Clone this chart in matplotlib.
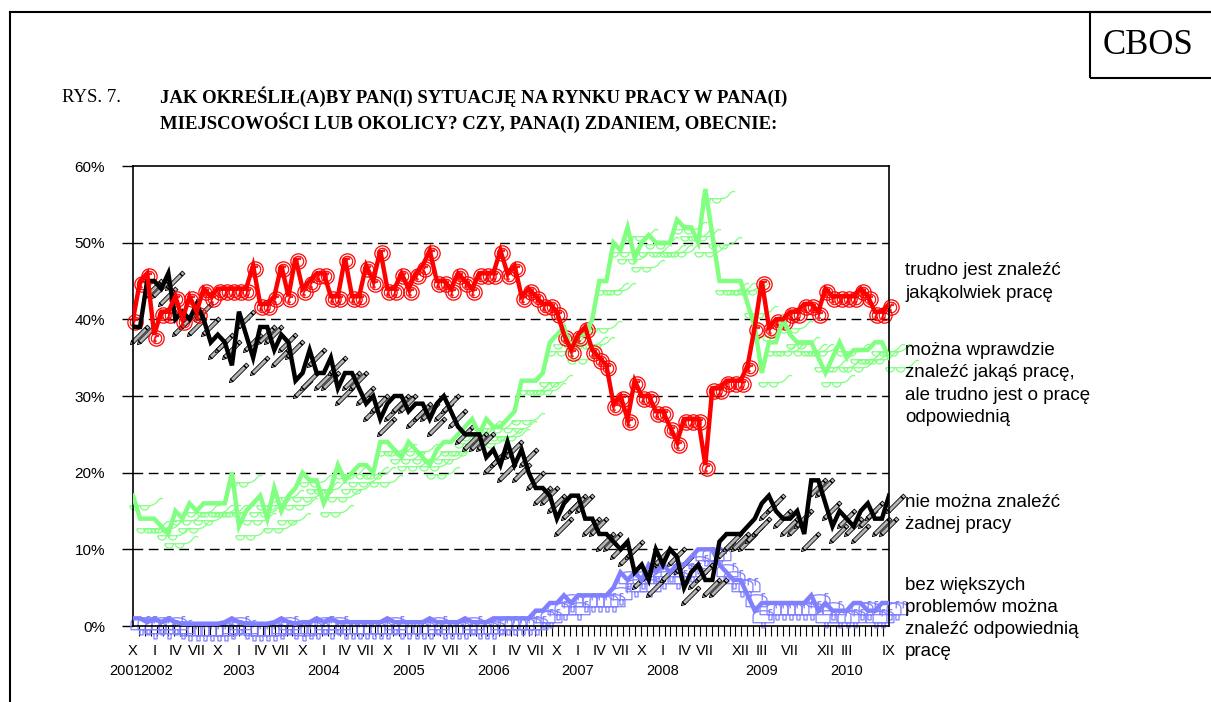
import numpy as np
import matplotlib
matplotlib.use("Agg")
import matplotlib.pyplot as plt
from matplotlib.path import Path
from matplotlib.transforms import ScaledTranslation
from matplotlib.patches import Rectangle
from matplotlib.lines import Line2D

plt.rcParams['font.family'] = ['Liberation Sans', 'DejaVu Sans']

# --- dane (X 2001 - IX 2010, co miesiąc) ---
trudno_jakakolwiek = [40, 45, 46, 38, 41, 41, 43, 40, 43, 41, 44, 43, 44, 44, 44, 44, 44, 47, 42, 42,
                      43, 47, 43, 48, 44, 45, 46, 46, 43, 43, 48, 43, 43, 47, 45, 49, 44, 44, 46, 44,
                      46, 47, 49, 45, 45, 44, 46, 45, 44, 46, 46, 46, 49, 46, 47, 43, 44, 43, 42, 42,
                      41, 38, 36, 38, 39, 36, 35, 34, 29, 30, 27, 32, 30, 30, 28, 28, 26, 24, 27, 27,
                      27, 21, 31, 31, 32, 32, 32, 34, 39, 45, 39, 40, 40, 41, 41, 42, 42, 41, 44, 43,
                      43, 43, 43, 44, 43, 41, 41, 42]
mozna_ale_trudno = [17, 14, 14, 14, 13, 12, 15, 14, 16, 15, 16, 16, 16, 16, 20, 13, 15, 16, 17, 14,
                    18, 15, 17, 18, 20, 19, 19, 16, 18, 21, 19, 20, 21, 21, 20, 24, 24, 23, 22, 24,
                    23, 22, 21, 23, 24, 24, 25, 26, 27, 25, 27, 26, 26, 27, 28, 32, 32, 32, 33, 37,
                    38, 39, 36, 38, 38, 40, 45, 45, 50, 49, 52, 48, 50, 51, 50, 50, 50, 53, 52, 52,
                    50, 57, 51, 45, 45, 45, 45, 42, 39, 33, 37, 37, 40, 38, 37, 37, 37, 35, 33, 35,
                    37, 35, 36, 36, 36, 37, 37, 35]
nie_mozna = [39, 39, 45, 45, 44, 46, 40, 41, 40, 42, 40, 37, 38, 37, 34, 41, 38, 35, 39, 39,
             36, 38, 37, 32, 33, 36, 33, 33, 35, 31, 33, 33, 31, 29, 30, 27, 29, 30, 30, 28,
             29, 29, 27, 29, 30, 28, 26, 25, 25, 25, 22, 23, 21, 24, 21, 23, 20, 18, 18, 17,
             14, 16, 17, 17, 14, 14, 12, 12, 11, 10, 11, 7, 8, 6, 10, 8, 10, 9, 5, 7,
             8, 6, 6, 11, 12, 12, 12, 13, 14, 16, 17, 15, 14, 14, 15, 12, 19, 19, 16, 13,
             15, 14, 13, 15, 16, 14, 14, 17]
bez_problemow = [1, 1, 0.5, 1, 0.5, 1, 0.5, 0.3, 0.3, 0.3, 0.3, 0.3, 0.3, 0.5, 1, 0.5, 0.3, 0.3, 0.3, 0.3,
                 0.5, 1, 0.5, 0.3, 0.5, 0.5, 1, 0.5, 1, 0.5, 0.5, 0.5, 0.5, 0.5, 0.5, 0.5, 1, 0.5, 0.5, 0.5,
                 0.5, 0.5, 1, 0.5, 0.5, 0.5, 0.5, 1, 0.5, 0.5, 0.5, 1, 1, 1, 1, 1, 1, 2, 2, 3,
                 3, 4, 3, 4, 4, 4, 4, 4, 5, 7, 6, 7, 6, 8, 7, 8, 7, 8, 8, 9,
                 10, 10, 10, 8, 7, 6, 6, 4, 2, 3, 3, 3, 3, 3, 3, 3, 4, 2, 3, 2,
                 2, 2, 3, 3, 2, 2, 3, 3]

miesiace = ['X', 'I', 'IV', 'VII', 'X', 'I', 'IV', 'VII', 'X', 'I', 'IV', 'VII', 'X', 'I', 'IV', 'VII',
            'X', 'I', 'IV', 'VII', 'X', 'I', 'IV', 'VII', 'X', 'I', 'IV', 'VII', 'XII', 'III', 'VII',
            'XII', 'III', 'IX']
miesiace_poz = [0, 3, 6, 9, 12, 15, 18, 21, 24, 27, 30, 33, 36, 39, 42, 45,
                48, 51, 54, 57, 60, 63, 66, 69, 72, 75, 78, 81, 86, 89, 93,
                98, 101, 107]
lata = ['2001', '2002', '2003', '2004', '2005', '2006', '2007', '2008', '2009', '2010']
lata_poz = [-1.1, 3.4, 15, 27, 39, 51, 63, 75, 89, 101]

etykiety = ['trudno jest znaleźć\njakąkolwiek pracę',
            'można wprawdzie\nznaleźć jakąś pracę,\nale trudno jest o pracę\nodpowiednią',
            'nie można znaleźć\nżadnej pracy',
            'bez większych\nproblemów można\nznaleźć odpowiednią\npracę']


# --- markery rysowane jako ścieżki ---
def polowa_kola(cx, cy, r, n=10):
    t = np.linspace(0, -np.pi, n)
    return list(zip(cx + r * np.cos(t), cy + r * np.sin(t)))


def okulary():
    v, c = [], []
    for cx in (0.0, 0.85):
        pts = [(cx - 0.35, 0), (cx + 0.35, 0)] + polowa_kola(cx, 0, 0.35)
        v += pts
        c += [Path.MOVETO] + [Path.LINETO] * (len(pts) - 1)
    v += [(0.35, 0), (0.5, 0)]
    c += [Path.MOVETO, Path.LINETO]
    arm = [(1.2, 0), (1.5, 0.05), (1.75, 0.2), (1.95, 0.45), (2.15, 0.6), (2.35, 0.55)]
    v += arm
    c += [Path.MOVETO] + [Path.LINETO] * (len(arm) - 1)
    v = np.array(v) - [1.0, 0.1]
    return Path(v, c)


def olowek():
    polys = [[(-1.2, 0), (-0.9, -0.17), (-0.9, 0.17), (-1.2, 0)],
             [(-0.9, -0.17), (0.85, -0.17), (0.85, 0.17), (-0.9, 0.17), (-0.9, -0.17)],
             [(0.9, -0.17), (1.2, -0.17), (1.2, 0.17), (0.9, 0.17), (0.9, -0.17)]]
    rot = np.array([[np.cos(np.pi / 4), -np.sin(np.pi / 4)], [np.sin(np.pi / 4), np.cos(np.pi / 4)]])
    v, c = [], []
    for p in polys:
        p = np.array(p) @ rot.T
        v += list(p)
        c += [Path.MOVETO] + [Path.LINETO] * (len(p) - 2) + [Path.CLOSEPOLY]
    return Path(np.array(v), c)


def skrzynka():
    t = np.linspace(0, np.pi, 12)
    top = list(zip(np.cos(t), 0.2 + 0.45 * np.sin(t)))
    body = [(-1, 0.2), (-1, -0.5), (1, -0.5), (1, 0.2)] + top
    v = body + [(-0.15, -0.5), (-0.15, -1), (0.15, -1), (0.15, -0.5)] + [(0.55, 0.1), (0.55, 0.75), (0.85, 0.75)]
    c = ([Path.MOVETO] + [Path.LINETO] * (len(body) - 1) +
         [Path.MOVETO, Path.LINETO, Path.LINETO, Path.LINETO] +
         [Path.MOVETO, Path.LINETO, Path.LINETO])
    return Path(np.array(v), c)


fig = plt.figure(figsize=(12.11, 7.02), dpi=100)
ax = fig.add_axes([133 / 1211, 1 - 626 / 702, 756 / 1211, 460 / 702])

x = np.arange(len(trudno_jakakolwiek))


def przes(dx, dy):
    return ax.transData + ScaledTranslation(dx / 100, dy / 100, fig.dpi_scale_trans)


czerwony = '#ff0000'
zielony = '#80ff80'
niebieski = '#8080ff'

# markery
ax.plot(x, bez_problemow, ls='none', marker=skrzynka(), ms=15, mfc='none', mec=niebieski, mew=0.9,
        transform=przes(8, -6), zorder=2, clip_on=False)
ax.plot(x, mozna_ale_trudno, ls='none', marker=okulary(), ms=24, mfc='none', mec=zielony, mew=0.9,
        transform=przes(13, -8), zorder=2, clip_on=False)
ax.plot(x, nie_mozna, ls='none', marker=olowek(), ms=15, mfc='#b5b5b5', mec='black', mew=0.6,
        transform=przes(6, -8), zorder=2, clip_on=False)
ax.plot(x, trudno_jakakolwiek, ls='none', marker='o', ms=11, mfc='none', mec=czerwony, mew=0.9,
        transform=przes(2, -3), zorder=2, clip_on=False)
ax.plot(x, trudno_jakakolwiek, ls='none', marker='$\u2706$', ms=8, mfc=czerwony, mec=czerwony, mew=0.3,
        transform=przes(2, -3), zorder=2, clip_on=False)

# linie
ax.plot(x, bez_problemow, color=niebieski, lw=3.2, zorder=3, solid_joinstyle='miter')
ax.plot(x, mozna_ale_trudno, color=zielony, lw=3.2, zorder=3, solid_joinstyle='miter')
ax.plot(x, nie_mozna, color='black', lw=3.2, zorder=3, solid_joinstyle='miter')
ax.plot(x, trudno_jakakolwiek, color=czerwony, lw=3.2, zorder=3, solid_joinstyle='miter')

ax.set_xlim(0, 107)
ax.set_ylim(0, 60)
ax.set_yticks(range(0, 61, 10))
ax.set_yticklabels([f'{v}%' for v in range(0, 61, 10)], fontsize=11)
for v in range(10, 60, 10):
    ax.axhline(v, color='black', lw=1, ls=(0, (7, 4)), zorder=1)
ax.tick_params(axis='y', length=8, width=1, pad=12, direction='out')

ax.set_xticks(miesiace_poz)
ax.set_xticklabels(miesiace, fontsize=10.5)
ax.set_xticks(np.linspace(0, 107, 129), minor=True)
ax.tick_params(axis='x', which='major', length=0, pad=13)
ax.tick_params(axis='x', which='minor', length=7, width=0.8, direction='out')
for rok, p in zip(lata, lata_poz):
    ax.text(p, -0.097, rok, transform=ax.get_xaxis_transform(), ha='center', va='center',
            fontsize=10.5, clip_on=False)
for s in ax.spines.values():
    s.set_color('black')
    s.set_linewidth(1.2)

# etykiety serii po prawej
for tekst, yc in zip(etykiety, [282, 384, 513.5, 618.5]):
    fig.text(905 / 1211, 1 - yc / 702, tekst, ha='left', va='center', fontsize=13.5, linespacing=1.4)

# tytuł i ramka
fig.text(62 / 1211, 1 - 97 / 702, 'RYS. 7.', family='Liberation Serif', fontsize=13.5, va='center')
fig.text(160 / 1211, 1 - 110 / 702,
         'JAK OKREŚLIŁ(A)BY PAN(I) SYTUACJĘ NA RYNKU PRACY W PANA(I)\n'
         'MIEJSCOWOŚCI LUB OKOLICY? CZY, PANA(I) ZDANIEM, OBECNIE:',
         family='Liberation Serif', fontweight='bold', fontsize=13.5, va='center', linespacing=1.35)
fig.add_artist(Line2D([10 / 1211, 1], [1 - 12 / 702, 1 - 12 / 702], color='black', lw=1.5))
fig.add_artist(Line2D([10 / 1211, 10 / 1211], [0, 1 - 12 / 702], color='black', lw=1.5))
fig.add_artist(Rectangle((1090 / 1211, 1 - 78 / 702), 0.2, 66 / 702, fill=False, ec='black', lw=1.5))
fig.text(1148 / 1211, 1 - 45 / 702, 'CBOS', family='Liberation Serif', fontsize=25,
         ha='center', va='center')

fig.savefig('out.png', dpi=100)
